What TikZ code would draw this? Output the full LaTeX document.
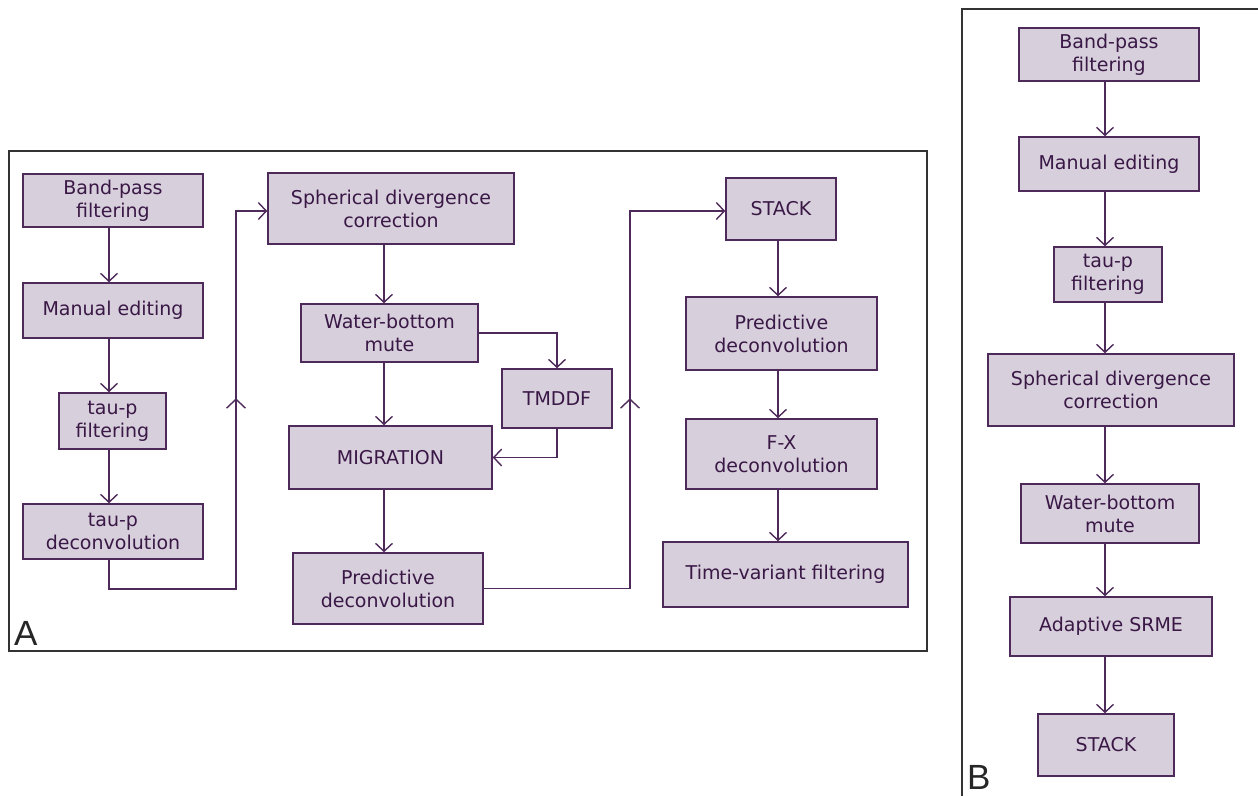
\documentclass[tikz,border=0pt]{standalone}
\usepackage{fontspec}
\setmainfont{DejaVu Sans}
\newfontfamily\labfont{Liberation Sans}
\usetikzlibrary{arrows.meta,decorations.markings}
\definecolor{boxfill}{HTML}{D7CFDC}
\definecolor{boxline}{HTML}{4E2A5A}
\definecolor{txt}{HTML}{3A1846}
\definecolor{framecol}{HTML}{333333}
\begin{document}
\begin{tikzpicture}[x=1pt,y=-1pt,
  proc/.style={draw=boxline, fill=boxfill, line width=1.5pt, text=txt,
    font=\fontsize{19}{23}\selectfont, align=center, inner sep=0pt},
  conn/.style={draw=boxline, line width=1.5pt},
  tip/.style={-{Straight Barb[length=8pt,width=17pt,line width=1.4pt]}},
  midup/.style={postaction={decorate}, decoration={markings,
    mark=at position #1 with {\arrow{Straight Barb[length=9pt,width=19pt,line width=1.4pt]}}}},
  frameline/.style={draw=framecol, line width=2pt},
  panellabel/.style={anchor=base west, inner sep=0pt, text=black!85,
    font=\labfont\fontsize{35}{35}\selectfont}]
\useasboundingbox (0,0) rectangle (1258,796);

% ---------- Panel A ----------
\draw[frameline] (9,151) rectangle (927,651);
\node[panellabel] (labA) at (14,645) {A};

\coordinate (colA) at (109,0);
\coordinate (colM) at (384,0);
\coordinate (colR) at (778,0);

\node[proc, minimum width=180pt, minimum height=53pt] (bp) at (113,200.5) {Band-pass\\filtering};
\node[proc, minimum width=180pt, minimum height=55pt] (me) at (113,310.5) {Manual editing};
\node[proc, minimum width=107pt, minimum height=56pt] (tf) at (112.5,421) {tau-p\\filtering};
\node[proc, minimum width=180pt, minimum height=55pt] (td) at (113,531.5) {tau-p\\deconvolution};

\node[proc, minimum width=246pt, minimum height=71pt] (sdc) at (391,208.5) {Spherical divergence\\correction};
\node[proc, minimum width=177pt, minimum height=58pt] (wbm) at (389.5,333) {Water-bottom\\mute};
\node[proc, minimum width=110pt, minimum height=59pt] (tmd) at (557,398.5) {TMDDF};
\node[proc, minimum width=203pt, minimum height=63pt] (mig) at (390.5,457.5) {MIGRATION};
\node[proc, minimum width=190pt, minimum height=71pt] (pdA) at (388,588.5) {Predictive\\deconvolution};

\node[proc, minimum width=110pt, minimum height=62pt] (stA) at (781,209) {STACK};
\node[proc, minimum width=191pt, minimum height=73pt] (pdR) at (781.5,333.5) {Predictive\\deconvolution};
\node[proc, minimum width=191pt, minimum height=70pt] (fx) at (781.5,454) {F-X\\deconvolution};
\node[proc, minimum width=245pt, minimum height=65pt] (tv) at (785.5,574.5) {Time-variant filtering};

\draw[conn, tip] (bp.south -| colA) -- (me.north -| colA);
\draw[conn, tip] (me.south -| colA) -- (tf.north -| colA);
\draw[conn, tip] (tf.south -| colA) -- (td.north -| colA);

\coordinate (jA1) at (236,589);
\coordinate (jA2) at (236,211);
\draw[conn, tip, midup=347pt] (td.south -| colA) -- (colA |- jA1) -- (jA1) -- (jA2) -- (sdc.west |- jA2);

\draw[conn, tip] (sdc.south -| colM) -- (wbm.north -| colM);
\draw[conn, tip] (wbm.south -| colM) -- (mig.north -| colM);
\draw[conn, tip] (mig.south -| colM) -- (pdA.north -| colM);
\draw[conn, tip] (wbm.east) -| (tmd.north);
\draw[conn, tip] (tmd.south) |- (mig.east);

\coordinate (jB2) at (630,211);
\draw[conn, tip, midup=336.5pt] (pdA.east) -- (pdA.east -| jB2) -- (jB2) -- (stA.west |- jB2);

\draw[conn, tip] (stA.south -| colR) -- (pdR.north -| colR);
\draw[conn, tip] (pdR.south -| colR) -- (fx.north -| colR);
\draw[conn, tip] (fx.south -| colR) -- (tv.north -| colR);

% ---------- Panel B ----------
\draw[frameline] (1258,9) -- (962,9) -- (962,796);
\node[panellabel] (labB) at (967,789) {B};

\coordinate (colB) at (1105,0);
\node[proc, minimum width=180pt, minimum height=53pt] (b1) at (1109,54.5) {Band-pass\\filtering};
\node[proc, minimum width=180pt, minimum height=54pt] (b2) at (1109,164) {Manual editing};
\node[proc, minimum width=108pt, minimum height=55pt] (b3) at (1108,274.5) {tau-p\\filtering};
\node[proc, minimum width=246pt, minimum height=72pt] (b4) at (1111,390) {Spherical divergence\\correction};
\node[proc, minimum width=178pt, minimum height=59pt] (b5) at (1110,513.5) {Water-bottom\\mute};
\node[proc, minimum width=202pt, minimum height=59pt] (b6) at (1111,626.5) {Adaptive SRME};
\node[proc, minimum width=136pt, minimum height=62pt] (b7) at (1106,745) {STACK};

\draw[conn, tip] (b1.south -| colB) -- (b2.north -| colB);
\draw[conn, tip] (b2.south -| colB) -- (b3.north -| colB);
\draw[conn, tip] (b3.south -| colB) -- (b4.north -| colB);
\draw[conn, tip] (b4.south -| colB) -- (b5.north -| colB);
\draw[conn, tip] (b5.south -| colB) -- (b6.north -| colB);
\draw[conn, tip] (b6.south -| colB) -- (b7.north -| colB);
\end{tikzpicture}
\end{document}
